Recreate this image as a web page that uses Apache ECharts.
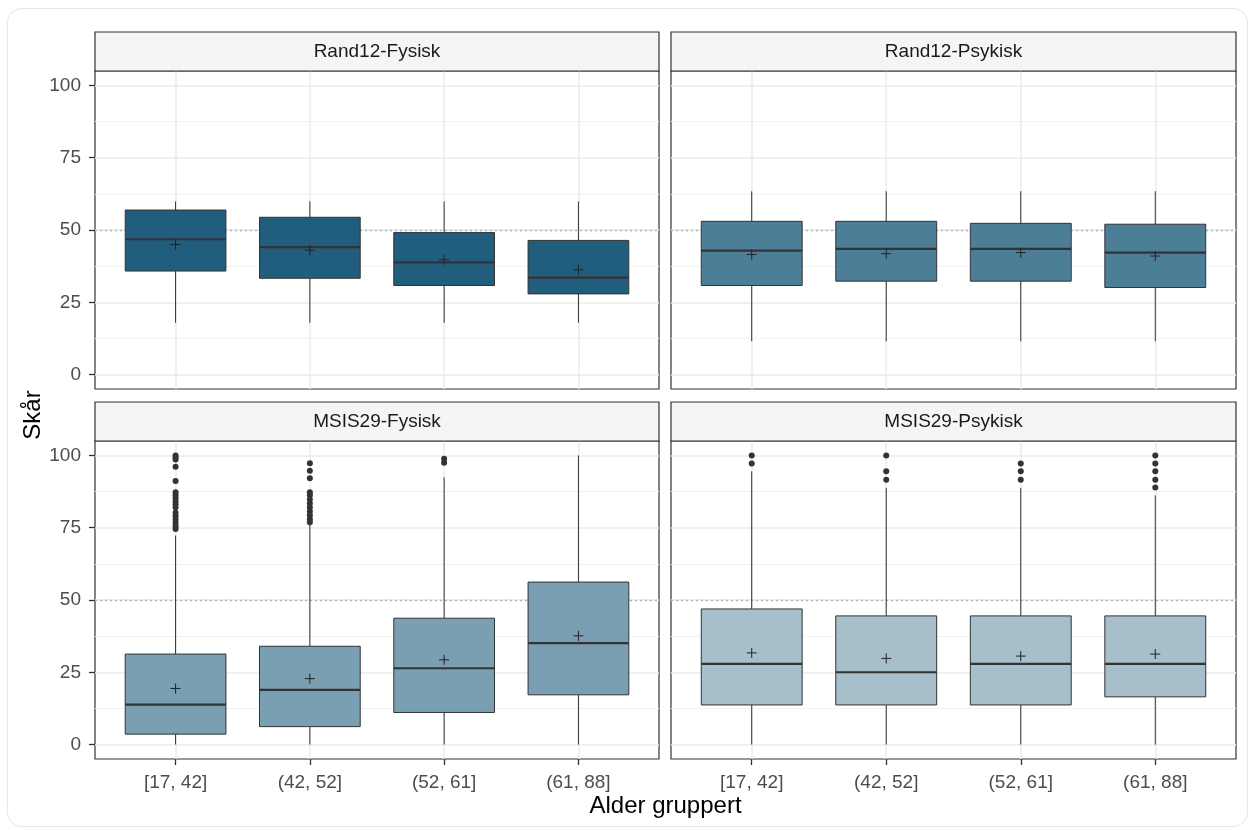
<!DOCTYPE html>
<html>
<head>
<meta charset="utf-8">
<script src="https://cdn.jsdelivr.net/npm/echarts@6/dist/echarts.min.js"></script>
<style>
html,body{margin:0;padding:0;background:#ffffff;}
#chart{width:1250px;height:830px;}
</style>
</head>
<body>
<div id="chart"></div>
<script>
// ---------- DATA ----------
const categories = ['[17, 42]', '(42, 52]', '(52, 61]', '(61, 88]'];
const panelTitles = ['Rand12-Fysisk', 'Rand12-Psykisk', 'MSIS29-Fysisk', 'MSIS29-Psykisk'];
const yTickValues = [0, 25, 50, 75, 100];
const yMinorTickValues = [12.5, 37.5, 62.5, 87.5];
const referenceValue = 50;
const xAxisTitle = 'Alder gruppert';
const yAxisTitle = 'Skår';

// each box: [lower whisker, Q1, median, Q3, upper whisker]
const rand12FysiskBoxes = [
  [17.9, 35.8, 46.8, 56.9, 59.9],
  [17.9, 33.3, 44.1, 54.4, 59.9],
  [17.9, 30.8, 38.8, 49.1, 59.9],
  [17.9, 27.9, 33.5, 46.4, 59.9]
];
const rand12FysiskMeans = [45.0, 43.0, 39.7, 36.2];
const rand12FysiskOutliers = [[], [], [], []];

const rand12PsykiskBoxes = [
  [11.5, 30.8, 42.9, 53.0, 63.4],
  [11.5, 32.3, 43.5, 53.0, 63.4],
  [11.5, 32.3, 43.5, 52.3, 63.4],
  [11.5, 30.1, 42.2, 52.0, 63.4]
];
const rand12PsykiskMeans = [41.5, 41.8, 42.2, 41.0];
const rand12PsykiskOutliers = [[], [], [], []];

const msis29FysiskBoxes = [
  [0, 3.6, 13.8, 31.3, 72.3],
  [0, 6.2, 18.9, 34.0, 76.0],
  [0, 11.1, 26.4, 43.7, 92.4],
  [0, 17.2, 35.1, 56.2, 100]
];
const msis29FysiskMeans = [19.4, 22.8, 29.3, 37.6];
const msis29FysiskOutliers = [
  [100, 99.3, 98.6, 96.1, 91.2, 87.3, 86.2, 85.2, 84.1, 83.1, 82.0, 80.2, 79.0, 77.8, 76.6, 75.5, 74.6],
  [97.3, 94.7, 92.1, 87.3, 86.2, 84.8, 83.4, 82.0, 80.6, 79.3, 77.9, 76.9],
  [98.9, 97.5],
  []
];

const msis29PsykiskBoxes = [
  [0, 13.7, 27.9, 46.9, 94.5],
  [0, 13.7, 25.0, 44.5, 88.8],
  [0, 13.7, 27.9, 44.5, 88.8],
  [0, 16.5, 27.9, 44.5, 86.2]
];
const msis29PsykiskMeans = [31.7, 29.8, 30.6, 31.3];
const msis29PsykiskOutliers = [
  [100, 97.2],
  [100, 94.5, 91.6],
  [97.2, 94.5, 91.6],
  [100, 97.2, 94.5, 91.6, 88.9]
];

// ---------- STYLE / LAYOUT ----------
const panelBoxes = [rand12FysiskBoxes, rand12PsykiskBoxes, msis29FysiskBoxes, msis29PsykiskBoxes];
const panelMeans = [rand12FysiskMeans, rand12PsykiskMeans, msis29FysiskMeans, msis29PsykiskMeans];
const panelOutliers = [rand12FysiskOutliers, rand12PsykiskOutliers, msis29FysiskOutliers, msis29PsykiskOutliers];
const panelFills = ['#215E7E', '#4D7E98', '#7A9EB2', '#A6BFCB'];
const panelRects = [
  {left: 95, top: 71, width: 564, height: 318},
  {left: 671, top: 71, width: 565, height: 318},
  {left: 95, top: 441, width: 564, height: 318},
  {left: 671, top: 441, width: 565, height: 318}
];
const stripHeight = 39;
const FONT = '"Liberation Sans", Arial, sans-serif';
const DARK = '#333333';

const grids = [], xAxes = [], yAxes = [], series = [], graphics = [];

graphics.push({
  type: 'rect', z: -10, silent: true,
  shape: {x: 7.5, y: 8.5, width: 1240, height: 818, r: 14},
  style: {fill: '#ffffff', stroke: '#ebe6e1', lineWidth: 1}
});

panelRects.forEach(function (r, i) {
  const isBottom = i >= 2;
  const isLeft = i % 2 === 0;
  grids.push({
    left: r.left, top: r.top, width: r.width, height: r.height,
    show: true, backgroundColor: '#ffffff', borderColor: DARK, borderWidth: 1.2
  });
  xAxes.push({
    gridIndex: i, type: 'value', min: 0.4, max: 4.6, position: 'bottom',
    axisLine: {show: false, onZero: false},
    axisTick: {show: isBottom, customValues: [1, 2, 3, 4], length: 6, lineStyle: {color: DARK, width: 1.3}},
    axisLabel: {
      show: isBottom, customValues: [1, 2, 3, 4], margin: 14,
      fontSize: 19, fontFamily: FONT, color: '#4d4d4d',
      formatter: function (v) { return categories[Math.round(v) - 1] || ''; }
    },
    splitLine: {show: true, lineStyle: {color: '#ebebeb', width: 1.5}}
  });
  yAxes.push({
    gridIndex: i, type: 'value', min: -5, max: 105, position: 'left',
    axisLine: {show: false, onZero: false},
    axisTick: {show: isLeft, customValues: yTickValues, length: 6, lineStyle: {color: DARK, width: 1.3}},
    axisLabel: {show: isLeft, customValues: yTickValues, margin: 14, fontSize: 19, fontFamily: FONT, color: '#4d4d4d'},
    splitLine: {show: true, lineStyle: {color: '#ebebeb', width: 1.5}}
  });
  yAxes.push({
    gridIndex: i, type: 'value', min: -5, max: 105, position: 'right',
    axisLine: {show: false, onZero: false},
    axisTick: {show: false, customValues: yMinorTickValues},
    axisLabel: {show: false, customValues: yMinorTickValues},
    splitLine: {show: true, lineStyle: {color: '#f2f2f2', width: 1}}
  });

  const fill = panelFills[i];
  series.push({
    type: 'custom', name: panelTitles[i], xAxisIndex: i, yAxisIndex: 2 * i, z: 2,
    encode: {x: 0, y: [1, 2, 3, 4, 5]},
    data: panelBoxes[i].map(function (b, k) { return [k + 1].concat(b); }),
    renderItem: function (params, api) {
      const x = api.value(0);
      const lo = api.coord([x, api.value(1)]);
      const q1 = api.coord([x, api.value(2)]);
      const med = api.coord([x, api.value(3)]);
      const q3 = api.coord([x, api.value(4)]);
      const hi = api.coord([x, api.value(5)]);
      const hw = api.size([0.75, 0])[0] / 2;
      const line = {stroke: DARK, lineWidth: 1};
      return {
        type: 'group',
        children: [
          {type: 'line', shape: {x1: lo[0], y1: lo[1], x2: q1[0], y2: q1[1]}, style: line},
          {type: 'line', shape: {x1: q3[0], y1: q3[1], x2: hi[0], y2: hi[1]}, style: line},
          {type: 'rect', shape: {x: q1[0] - hw, y: q3[1], width: 2 * hw, height: q1[1] - q3[1]},
            style: {fill: fill, stroke: DARK, lineWidth: 1}},
          {type: 'line', shape: {x1: med[0] - hw, y1: med[1], x2: med[0] + hw, y2: med[1]},
            style: {stroke: DARK, lineWidth: 2.2}}
        ]
      };
    },
    markLine: {
      silent: true, symbol: 'none', z: 1, animation: false,
      label: {show: false},
      lineStyle: {color: '#a3b8c6', type: [2, 3], width: 1.3},
      data: [{yAxis: referenceValue}]
    }
  });
  series.push({
    type: 'custom', name: panelTitles[i] + ' mean', xAxisIndex: i, yAxisIndex: 2 * i, z: 3,
    encode: {x: 0, y: 1},
    data: panelMeans[i].map(function (m, k) { return [k + 1, m]; }),
    renderItem: function (params, api) {
      const p = api.coord([api.value(0), api.value(1)]);
      const s = 5;
      const st = {stroke: '#222222', lineWidth: 1};
      return {
        type: 'group',
        children: [
          {type: 'line', shape: {x1: p[0] - s, y1: p[1], x2: p[0] + s, y2: p[1]}, style: st},
          {type: 'line', shape: {x1: p[0], y1: p[1] - s, x2: p[0], y2: p[1] + s}, style: st}
        ]
      };
    }
  });
  const outPts = [];
  panelOutliers[i].forEach(function (list, k) {
    list.forEach(function (v) { outPts.push([k + 1, v]); });
  });
  series.push({
    type: 'scatter', name: panelTitles[i] + ' outliers', xAxisIndex: i, yAxisIndex: 2 * i, z: 3,
    symbol: 'circle', symbolSize: 6,
    itemStyle: {color: DARK, opacity: 1},
    data: outPts
  });

  // facet strip
  graphics.push({
    type: 'rect', silent: true, z: 5,
    shape: {x: r.left, y: r.top - stripHeight, width: r.width, height: stripHeight},
    style: {fill: '#f4f5f7', stroke: DARK, lineWidth: 1.2}
  });
  graphics.push({
    type: 'text', silent: true, z: 6,
    x: r.left + r.width / 2, y: r.top - stripHeight / 2,
    style: {text: panelTitles[i], align: 'center', verticalAlign: 'middle',
      fontSize: 19, fontFamily: FONT, fill: '#1a1a1a'}
  });
});

graphics.push({
  type: 'text', silent: true, z: 6,
  x: (panelRects[0].left + panelRects[1].left + panelRects[1].width) / 2, y: 806,
  style: {text: xAxisTitle, align: 'center', verticalAlign: 'middle', fontSize: 24, fontFamily: FONT, fill: '#000000'}
});
graphics.push({
  type: 'text', silent: true, z: 6,
  x: 33, y: (panelRects[0].top + panelRects[2].top + panelRects[2].height) / 2,
  rotation: Math.PI / 2,
  style: {text: yAxisTitle, align: 'center', verticalAlign: 'middle', fontSize: 24, fontFamily: FONT, fill: '#000000'}
});

const chart = echarts.init(document.getElementById('chart'), null, {renderer: 'canvas'});
chart.setOption({
  animation: false,
  backgroundColor: '#ffffff',
  textStyle: {fontFamily: FONT},
  grid: grids,
  xAxis: xAxes,
  yAxis: yAxes,
  series: series,
  graphic: graphics
});
</script>
</body>
</html>
